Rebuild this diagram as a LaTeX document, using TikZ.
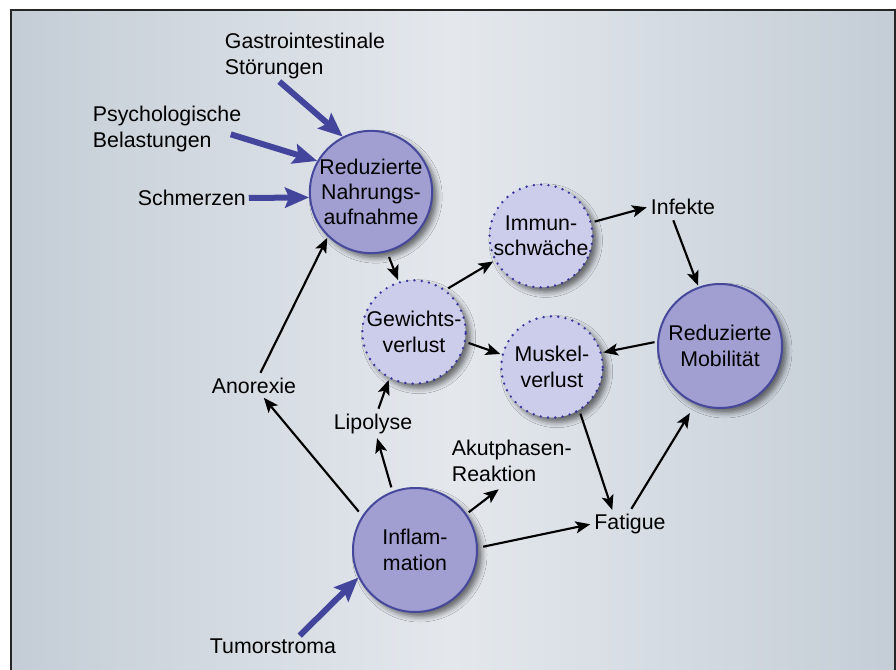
\documentclass[tikz,border=0pt]{standalone}
\usepackage{fontspec}
\setmainfont{Liberation Sans}
\usepackage{tikz}
\usetikzlibrary{arrows.meta,positioning,calc,shadows.blur}
\definecolor{bgdark}{RGB}{196,205,214}
\definecolor{bglight}{RGB}{228,232,237}
\definecolor{nodefill}{RGB}{161,159,209}
\definecolor{nodeline}{RGB}{70,72,155}
\definecolor{softfill}{RGB}{204,204,235}
\definecolor{softline}{RGB}{55,55,160}
\definecolor{causeblue}{RGB}{66,69,155}
\tikzstyle{bigvertex}=[draw=nodeline,line width=1.5pt,fill=nodefill,circle,inner sep=0pt,align=center,blur shadow={shadow xshift=3.5pt,shadow yshift=-3.5pt,shadow blur radius=4pt,shadow opacity=55}]
\tikzstyle{softvertex}=[draw=softline,line width=2pt,dash pattern=on 0pt off 5.5pt,line cap=round,fill=softfill,circle,inner sep=0pt,align=center,blur shadow={shadow xshift=3.5pt,shadow yshift=-3.5pt,shadow blur radius=4pt,shadow opacity=55}]
\tikzstyle{word}=[inner sep=2pt]
\tikzstyle{link}=[black,line width=1.6pt,-{Stealth[length=11pt,width=9pt,inset=2.5pt]},shorten <=2pt,shorten >=1pt]
\tikzstyle{cause}=[causeblue,line width=4.5pt,-{Stealth[length=18pt,width=15pt,inset=3pt]}]

\begin{document}
\begin{tikzpicture}[x=0.75pt,y=-0.75pt,font=\fontsize{16pt}{19pt}\selectfont]
\clip (0,0) rectangle (896,670);
\shade[left color=bgdark,right color=bgdark,middle color=bglight] (11,10) rectangle (895,690);
\draw[line width=1.5pt,black!85] (11,10) rectangle (895,690);

\node[bigvertex,minimum size=91.5pt] (rna) at (371,192) {Reduzierte\\Nahrungs-\\aufnahme};
\node[softvertex,minimum size=76.5pt] (immun) at (541,236) {Immun-\\schwäche};
\node[softvertex,minimum size=76pt] (gewicht) at (414,332) {Gewichts-\\verlust};
\node[softvertex,minimum size=76pt] (muskel) at (552,367) {Muskel-\\verlust};
\node[bigvertex,minimum size=93pt] (mobil) at (720,346) {Reduzierte\\Mobilität};
\node[bigvertex,minimum size=93pt] (inflam) at (415,550) {Inflam-\\mation};

\node[word,anchor=west,align=left] (gastro) at (222,56) {Gastrointestinale\\Störungen};
\node[word,anchor=west,align=left] (psych) at (90,129) {Psychologische\\Belastungen};
\node[word,anchor=west] (schmerz) at (135,198) {Schmerzen};
\node[word] (anorex) at (254,386) {Anorexie};
\node[word] (lipo) at (373,424) {Lipolyse};
\node[word,anchor=west,align=left] (akut) at (449,461) {Akutphasen-\\Reaktion};
\node[word] (infekte) at (683,207) {Infekte};
\node[word] (fatigue) at (630,524) {Fatigue};
\node[word] (tumor) at (273,646) {Tumorstroma};

\draw[cause] ([xshift=43pt]gastro.south west) -- (rna.117);
\draw[cause] ([xshift=-10pt,yshift=-4pt]psych.east) -- (rna.150);
\draw[cause] (schmerz.east) -- (rna.185);
\draw[cause] ([xshift=20pt]tumor.north) -- (inflam.206);

\draw[link,shorten <=4pt] (rna.-75) -- (gewicht.107);
\draw[link] (anorex) -- (rna.226);
\draw[link,shorten <=4pt] (inflam.147) -- (anorex);
\draw[link,shorten <=3pt] (inflam.111) -- (lipo);
\draw[link] (lipo) -- (gewicht.242);
\draw[link] (inflam.35) -- ([xshift=-9pt,yshift=-3pt]akut.south);
\draw[link] (gewicht.53) -- (immun.208);
\draw[link] (gewicht.-11) -- (muskel.166);
\draw[link] (immun.15) -- (infekte.west);
\draw[link] ([xshift=-8pt]infekte.south) -- (mobil.110);
\draw[link] (mobil.176) -- (muskel.16);
\draw[link] (muskel.-58) -- ([xshift=-13pt]fatigue.north);
\draw[link,shorten >=8pt] (fatigue.north) -- (mobil.247);
\draw[link,shorten <=4pt] (inflam.2) -- (fatigue.west);
\end{tikzpicture}
\end{document}
